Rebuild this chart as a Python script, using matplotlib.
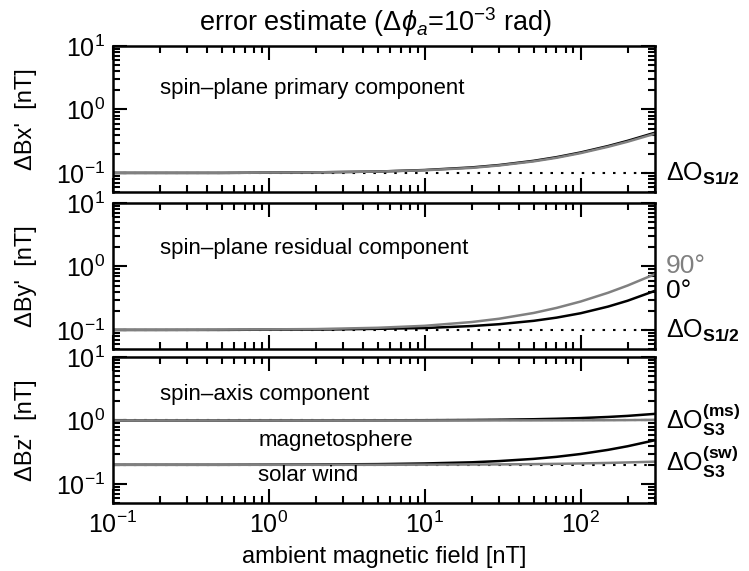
import numpy as np
import matplotlib
matplotlib.use("Agg")
import matplotlib.pyplot as plt
import matplotlib.transforms as mtransforms
from matplotlib.ticker import LogLocator, NullFormatter

plt.rcParams['font.family'] = ['Liberation Sans', 'DejaVu Sans']
plt.rcParams['mathtext.fontset'] = 'custom'
plt.rcParams['mathtext.rm'] = 'Liberation Sans'
plt.rcParams['mathtext.it'] = 'Liberation Sans:italic'
plt.rcParams['mathtext.bf'] = 'Liberation Sans:bold'

B = [0.1, 0.2, 0.5, 1, 2, 5, 10, 20, 30, 50, 70, 100, 150, 200, 300]

# spin-plane primary component
bx_black = [0.100, 0.100, 0.100, 0.101, 0.102, 0.105, 0.111, 0.122, 0.133, 0.155, 0.177, 0.210, 0.265, 0.320, 0.430]
bx_gray = [0.100, 0.100, 0.100, 0.101, 0.102, 0.105, 0.110, 0.120, 0.131, 0.152, 0.173, 0.205, 0.258, 0.310, 0.415]

# spin-plane residual component (0 deg black, 90 deg gray)
by_0 = [0.100, 0.100, 0.100, 0.101, 0.101, 0.104, 0.107, 0.115, 0.123, 0.139, 0.156, 0.183, 0.233, 0.288, 0.413]
by_90 = [0.100, 0.100, 0.101, 0.102, 0.103, 0.108, 0.116, 0.133, 0.150, 0.185, 0.222, 0.280, 0.385, 0.500, 0.757]

# spin-axis component
bz_ms_black = [1.000, 1.000, 1.000, 1.001, 1.002, 1.005, 1.009, 1.018, 1.027, 1.045, 1.063, 1.090, 1.135, 1.180, 1.270]
bz_ms_gray = [1.000, 1.000, 1.000, 1.000, 1.000, 1.000, 1.000, 1.001, 1.001, 1.002, 1.003, 1.005, 1.008, 1.012, 1.022]
bz_sw_black = [0.200, 0.200, 0.200, 0.201, 0.202, 0.205, 0.210, 0.219, 0.229, 0.248, 0.267, 0.296, 0.344, 0.392, 0.488]
bz_sw_gray = [0.200, 0.200, 0.200, 0.200, 0.200, 0.200, 0.201, 0.202, 0.203, 0.205, 0.207, 0.210, 0.214, 0.218, 0.224]

# offset uncertainties (dotted)
dO_s12 = 0.1
dO_s3_ms = 1.0
dO_s3_sw = 0.2

gray = "#808080"
fs = 16

fig = plt.figure(figsize=(7.49, 5.71), dpi=100)
left, width = 113 / 749, 542 / 749
tops = [46, 203, 357]
h = 146
axes = []
for t in tops:
    ax = fig.add_axes([left, 1 - (t + h) / 571, width, h / 571])
    axes.append(ax)

for i, ax in enumerate(axes):
    ax.set_xscale("log")
    ax.set_yscale("log")
    ax.set_xlim(0.1, 300)
    ax.set_ylim(0.05, 10)
    ax.xaxis.set_major_locator(LogLocator(base=10, numticks=10))
    ax.xaxis.set_minor_locator(LogLocator(base=10, subs=np.arange(2, 10), numticks=10))
    ax.yaxis.set_minor_locator(LogLocator(base=10, subs=np.arange(2, 10), numticks=10))
    ax.yaxis.set_minor_formatter(NullFormatter())
    ax.xaxis.set_minor_formatter(NullFormatter())
    ax.tick_params(which="both", direction="in", top=True, right=True, width=1.5, labelsize=18)
    ax.tick_params(which="major", length=10, pad=6)
    ax.tick_params(which="minor", length=5)
    for s in ax.spines.values():
        s.set_linewidth(1.8)
    if i < 2:
        ax.tick_params(labelbottom=False)

lw = 1.8
dots = (0, (1.2, 3.8))
trans = [mtransforms.blended_transform_factory(ax.transAxes, ax.transData) for ax in axes]

# top panel
ax = axes[0]
ax.axhline(dO_s12, color="k", lw=1.5, ls=dots)
ax.plot(B, bx_black, color="k", lw=lw)
ax.plot(B, bx_gray, color=gray, lw=lw)
ax.set_ylabel("ΔBx'  [nT]", fontsize=17)
ax.text(0.087, 0.71, "spin\u2013plane primary component", transform=ax.transAxes,
        fontsize=fs, va="center", ha="left")
ax.text(1.02, dO_s12, r"$\Delta\mathrm{O}_{\mathbf{S1/2}}$", transform=trans[0],
        fontsize=18, va="center", ha="left")

# middle panel
ax = axes[1]
ax.axhline(dO_s12, color="k", lw=1.5, ls=dots)
ax.plot(B, by_0, color="k", lw=lw)
ax.plot(B, by_90, color=gray, lw=lw)
ax.set_ylabel("ΔBy'  [nT]", fontsize=17)
ax.text(0.087, 0.69, "spin\u2013plane residual component", transform=ax.transAxes,
        fontsize=fs, va="center", ha="left")
ax.text(1.02, by_90[-1] * 1.35, "90°", transform=trans[1], color=gray,
        fontsize=19, va="center", ha="left")
ax.text(1.02, by_0[-1] * 1.0, "0°", transform=trans[1], color="k",
        fontsize=19, va="center", ha="left")
ax.text(1.02, dO_s12, r"$\Delta\mathrm{O}_{\mathbf{S1/2}}$", transform=trans[1],
        fontsize=18, va="center", ha="left")

# bottom panel
ax = axes[2]
ax.axhline(dO_s3_ms, color="k", lw=1.5, ls=dots)
ax.axhline(dO_s3_sw, color="k", lw=1.5, ls=dots)
ax.plot(B, bz_ms_black, color="k", lw=lw)
ax.plot(B, bz_ms_gray, color=gray, lw=lw)
ax.plot(B, bz_sw_black, color="k", lw=lw)
ax.plot(B, bz_sw_gray, color=gray, lw=lw)
ax.set_ylabel("ΔBz'  [nT]", fontsize=17)
ax.text(0.087, 0.74, "spin\u2013axis component", transform=ax.transAxes,
        fontsize=fs, va="center", ha="left")
ax.text(0.268, 0.43, "magnetosphere", transform=ax.transAxes,
        fontsize=fs, va="center", ha="left")
ax.text(0.268, 0.185, "solar wind", transform=ax.transAxes,
        fontsize=fs, va="center", ha="left")
ax.text(1.02, dO_s3_ms * 1.02, r"$\Delta\mathrm{O}_{\mathbf{S3}}^{\mathbf{(ms)}}$", transform=trans[2],
        fontsize=18, va="center", ha="left")
ax.text(1.02, dO_s3_sw * 1.1, r"$\Delta\mathrm{O}_{\mathbf{S3}}^{\mathbf{(sw)}}$", transform=trans[2],
        fontsize=18, va="center", ha="left")
ax.set_xlabel("ambient magnetic field [nT]", fontsize=17, labelpad=6)

for ax in axes:
    ax.yaxis.set_label_coords(-0.14, 0.5)

fig.text(376 / 749, 1 - 22 / 571, r"error estimate ($\Delta\phi_a$=10$^{-3}$ rad)",
         fontsize=19.5, ha="center", va="center")

fig.savefig("out.png", dpi=100)
